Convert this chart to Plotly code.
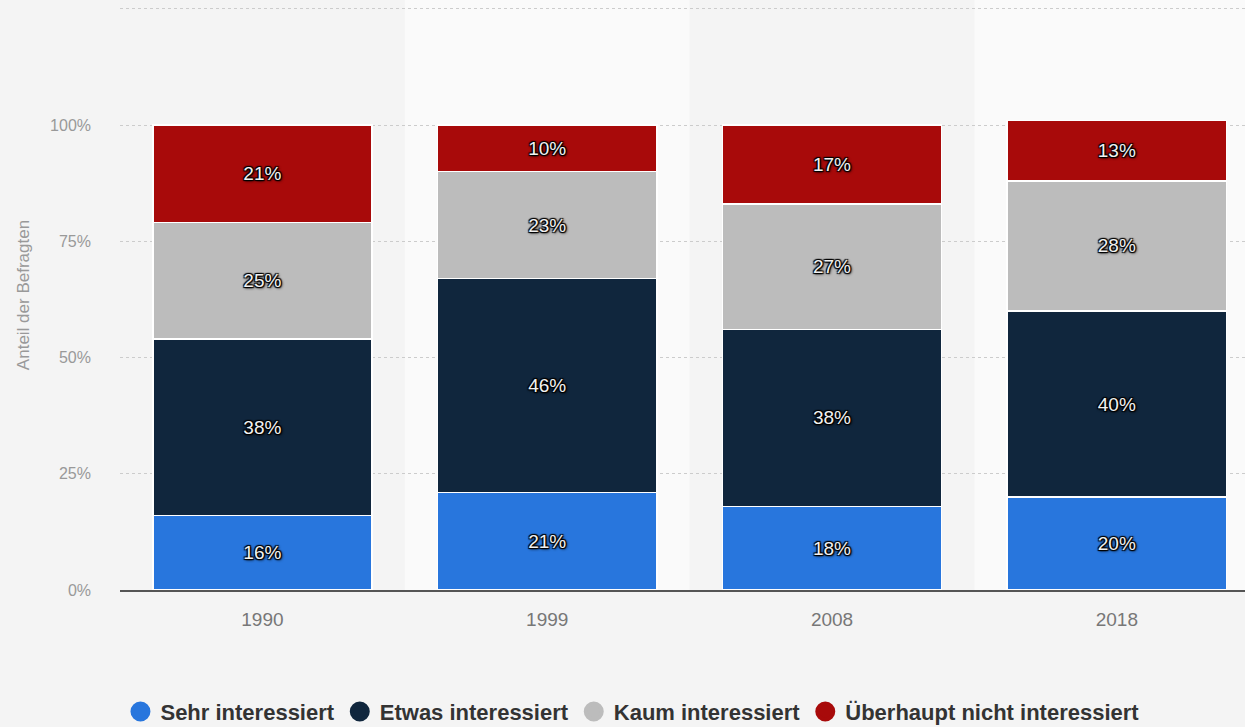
import plotly.graph_objects as go

# Survey years and answer shares (percent of respondents)
years = ["1990", "1999", "2008", "2018"]
sehr = [16, 21, 18, 20]
etwas = [38, 46, 38, 40]
kaum = [25, 23, 27, 28]
ueberhaupt = [21, 10, 17, 13]

series_names = ["Sehr interessiert", "Etwas interessiert", "Kaum interessiert",
                "Überhaupt nicht interessiert"]
series_values = [sehr, etwas, kaum, ueberhaupt]
colors = ["#2876dd", "#10263d", "#bcbcbc", "#a80a0a"]

y_ticks = [0, 25, 50, 75, 100, 125]
y_tick_labels = ["0%", "25%", "50%", "75%", "100%", ""]

FONT = "Liberation Sans, Arial, sans-serif"
outline = ("1px 1px 1px #000, -1px -1px 1px #000, 1px -1px 1px #000, "
           "-1px 1px 1px #000, 1px 1px 3px #000")

fig = go.Figure()

for name, vals, col in zip(series_names, series_values, colors):
    fig.add_trace(go.Bar(
        x=years, y=vals, name=name,
        marker=dict(color=col, line=dict(color="#ffffff", width=1.5)),
        width=0.77,
        text=[f"{v}%" for v in vals],
        textposition="inside",
        insidetextanchor="middle",
        textangle=0,
        constraintext="none",
        textfont=dict(family=FONT, size=19, color="#f2f2f2", shadow=outline),
        showlegend=False,
        hoverinfo="skip",
    ))

# Round legend markers
for name, col in zip(series_names, colors):
    fig.add_trace(go.Scatter(
        x=[None], y=[None], mode="markers", name=name,
        marker=dict(symbol="circle", size=16, color=col,
                    line=dict(color=col, width=4)),
        showlegend=True,
    ))

# Alternating column bands
band_colors = ["#f4f4f4", "#fafafa", "#f4f4f4", "#fafafa"]
for i, bc in enumerate(band_colors):
    fig.add_shape(type="rect", xref="x", yref="paper",
                  x0=i - 0.5, x1=i + 0.5, y0=0, y1=1,
                  fillcolor=bc, line=dict(width=0), layer="below")

fig.update_layout(
    width=1245, height=727,
    barmode="stack",
    bargap=0.23,
    paper_bgcolor="#f4f4f4",
    plot_bgcolor="#f4f4f4",
    margin=dict(l=120, r=0, t=0, b=137, autoexpand=False),
    font=dict(family=FONT, color="#999999"),
    legend=dict(
        orientation="h",
        xref="container", yref="container",
        x=0.508, xanchor="center",
        y=0.021, yanchor="middle",
        font=dict(family=FONT, size=22, color="#333333", weight="bold"),
        bgcolor="rgba(0,0,0,0)",
        itemsizing="trace",
        traceorder="normal",
    ),
    xaxis=dict(
        type="category",
        range=[-0.5, 3.45],
        showgrid=False,
        showline=True, linecolor="#555555", linewidth=2,
        ticks="", tickfont=dict(family=FONT, size=19, color="#777777"),
        ticklabelstandoff=11,
        fixedrange=True,
    ),
    yaxis=dict(
        range=[0, 126.9],
        tickvals=y_ticks, ticktext=y_tick_labels,
        showgrid=True, gridcolor="#cccccc", gridwidth=1, griddash="dot",
        zeroline=False, showline=False, ticks="",
        tickfont=dict(family=FONT, size=16, color="#999999"),
        ticklabelstandoff=28,
        title=dict(text="Anteil der Befragten", standoff=16,
                   font=dict(family=FONT, size=17, color="#999999")),
        fixedrange=True,
    ),
)

fig.write_html("out.html")
